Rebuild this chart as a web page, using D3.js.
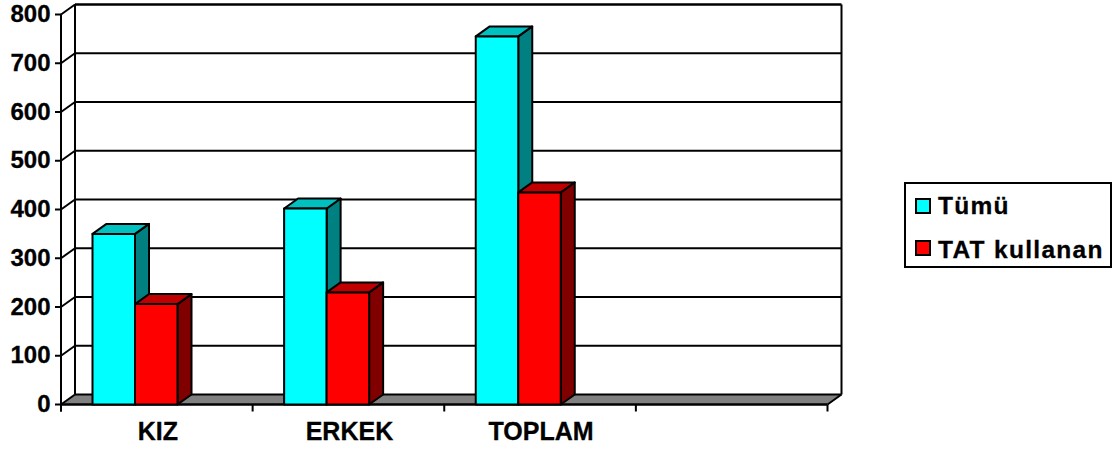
<!DOCTYPE html>
<html>
<head>
<meta charset="utf-8">
<script src="https://cdn.jsdelivr.net/npm/d3@7/dist/d3.min.js"></script>
<style>
html, body { margin: 0; padding: 0; background: #fff; }
svg { display: block; }
text { font-family: "Liberation Sans", Arial, sans-serif; font-weight: bold; fill: #000; stroke: #000; stroke-width: 0.3px; }
</style>
</head>
<body>
<svg id="chart" width="1117" height="450"></svg>
<script>
// Chart data
const categories = ["KIZ", "ERKEK", "TOPLAM", ""];
const seriesNames = ["Tümü", "TAT kullanan"];
const tumu = [350, 402, 755];
const tatKullanan = [206, 230, 435];
const yTicks = [0, 100, 200, 300, 400, 500, 600, 700, 800];

// Per-series shades: front, top, side
const shades = [
  { front: "#00ffff", top: "#00c0c0", side: "#008080" },
  { front: "#ff0000", top: "#c00000", side: "#800000" }
];

const svg = d3.select("#chart");
const depthX = 14, depthY = 10;
const plotLeft = 61, plotRight = 827.5, plotTop = 14.5, plotBottom = 404.5;

const y = d3.scaleLinear().domain([0, 800]).range([plotBottom, plotTop]);
const x = d3.scaleBand().domain(categories).range([plotLeft, plotRight]);

const line = (x1, y1, x2, y2, w = 2) => svg.append("line")
  .attr("x1", x1).attr("y1", y1).attr("x2", x2).attr("y2", y2)
  .attr("stroke", "#000").attr("stroke-width", w);

// Floor of the 3D box
svg.append("polygon")
  .attr("points", [[plotLeft, plotBottom], [plotLeft + depthX, plotBottom - depthY], [plotRight + depthX, plotBottom - depthY], [plotRight, plotBottom]].join(" "))
  .attr("fill", "#808080");

// Walls and gridlines
yTicks.forEach(t => {
  const py = y(t);
  line(plotLeft - 6, py, plotLeft, py);
  line(plotLeft, py, plotLeft + depthX, py - depthY);
  line(plotLeft + depthX, py - depthY, plotRight + depthX, py - depthY, t === 800 ? 2.5 : 2);
  svg.append("text")
    .attr("x", 50.5).attr("y", py).attr("dy", "0.32em")
    .attr("text-anchor", "end").attr("font-size", 24)
    .text(t);
});
line(plotLeft, plotTop, plotLeft, plotBottom + 7);
line(plotLeft + depthX, plotTop - depthY, plotLeft + depthX, plotBottom - depthY);
line(plotRight + depthX, plotTop - depthY, plotRight + depthX, plotBottom - depthY);
line(plotRight + depthX, plotBottom - depthY, plotRight, plotBottom);

// Category axis
line(plotLeft, plotBottom, plotRight, plotBottom, 2.5);
[...categories.map(c => x(c)), plotRight].forEach(px => line(px, plotBottom, px, plotBottom + 7));
categories.forEach(c => {
  svg.append("text")
    .attr("x", x(c) + x.bandwidth() / 2 + 1).attr("y", 440)
    .attr("text-anchor", "middle").attr("font-size", 25)
    .text(c);
});

// Bars: offset inside each band, drawn as front, top and side faces
const barWidth = 42.5, barOffset = 31.5;
[tumu, tatKullanan].forEach((vals, s) => {
  vals.forEach((v, i) => {
    const x0 = x(categories[i]) + barOffset + s * barWidth;
    const x1 = x0 + barWidth;
    const yTop = y(v);
    const g = svg.append("g").attr("stroke", "#000").attr("stroke-width", 2).attr("stroke-linejoin", "round");
    g.append("polygon")
      .attr("points", [[x1, yTop], [x1 + depthX, yTop - depthY], [x1 + depthX, plotBottom - depthY], [x1, plotBottom]].join(" "))
      .attr("fill", shades[s].side);
    g.append("polygon")
      .attr("points", [[x0, yTop], [x0 + depthX, yTop - depthY], [x1 + depthX, yTop - depthY], [x1, yTop]].join(" "))
      .attr("fill", shades[s].top);
    g.append("rect")
      .attr("x", x0).attr("y", yTop).attr("width", barWidth).attr("height", plotBottom - yTop)
      .attr("fill", shades[s].front);
  });
});

// Legend
svg.append("rect")
  .attr("x", 905).attr("y", 183).attr("width", 206).attr("height", 84)
  .attr("fill", "#fff").attr("stroke", "#000").attr("stroke-width", 2);
seriesNames.forEach((name, i) => {
  const cy = 206 + i * 42;
  svg.append("rect")
    .attr("x", 916).attr("y", cy - 7).attr("width", 14).attr("height", 14)
    .attr("fill", shades[i].front).attr("stroke", "#000").attr("stroke-width", 2);
  svg.append("text")
    .attr("x", 938).attr("y", 205 + i * 44).attr("dy", "0.35em")
    .attr("font-size", 24.5).attr("letter-spacing", 1.3)
    .text(name);
});
</script>
</body>
</html>
